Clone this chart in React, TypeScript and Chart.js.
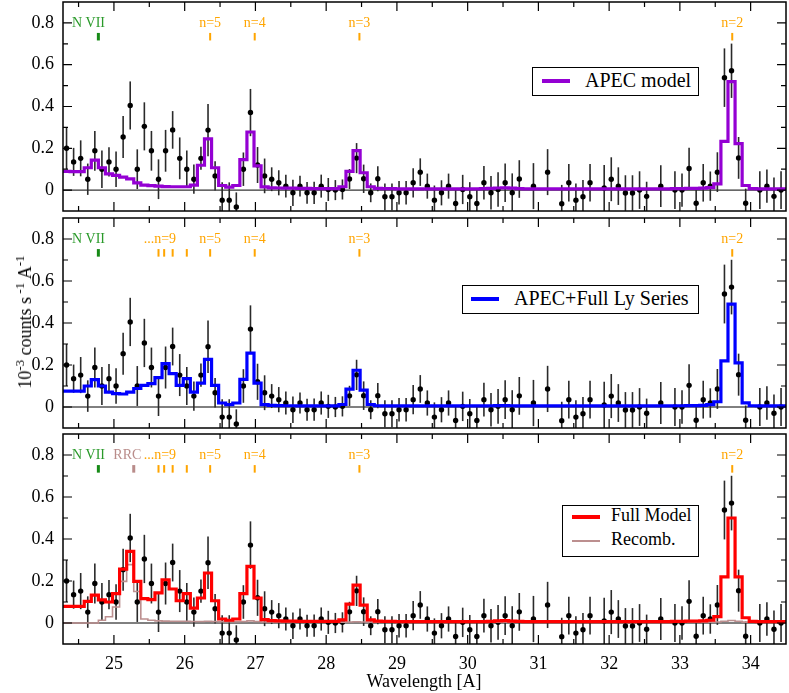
import React, { useEffect, useRef } from "react";
import Chart from "chart.js/auto";

const FONT = '"Liberation Serif", "Times New Roman", serif';

// observed spectrum: bin centres [A], rate and 1-sigma error
const dataWave = [
  24.33, 24.43, 24.53, 24.63, 24.73, 24.83, 24.93, 25.03, 25.13, 25.23,
  25.33, 25.43, 25.53, 25.63, 25.73, 25.83, 25.93, 26.03, 26.13, 26.23,
  26.33, 26.43, 26.53, 26.63, 26.73, 26.83, 26.93, 27.03, 27.13, 27.23,
  27.33, 27.43, 27.53, 27.63, 27.73, 27.83, 27.93, 28.03, 28.13, 28.23,
  28.33, 28.43, 28.53, 28.63, 28.73, 28.83, 28.93, 29.03, 29.13, 29.23,
  29.33, 29.43, 29.53, 29.63, 29.73, 29.83, 29.93, 30.03, 30.13, 30.23,
  30.33, 30.43, 30.53, 30.63, 30.73, 30.93, 31.13, 31.33, 31.43, 31.53,
  31.63, 31.73, 31.93, 32.03, 32.13, 32.23, 32.33, 32.43, 32.53, 32.73,
  32.93, 33.03, 33.13, 33.23, 33.33, 33.43, 33.53, 33.63, 33.73, 33.83,
  33.93, 34.13, 34.23, 34.33, 34.43,
];
const dataRate = [
  0.200, 0.135, 0.152, 0.052, 0.188, 0.100, 0.135, 0.100, 0.254, 0.405,
  0.100, 0.305, 0.188, 0.052, 0.188, 0.288, 0.152, 0.100, 0.052, 0.152,
  0.287, 0.068, -0.048, -0.048, -0.081, 0.100, 0.371, 0.120, 0.068, 0.052,
  0.035, 0.019, -0.013, 0.019, -0.013, -0.013, 0.019, 0.003, 0.000, 0.003,
  0.053, 0.153, 0.054, -0.013, 0.054, -0.032, -0.032, -0.013, -0.013, 0.035,
  0.086, 0.019, -0.048, -0.013, 0.019, -0.064, 0.003, -0.032, -0.064, 0.035,
  -0.013, 0.003, 0.035, -0.013, 0.053, 0.019, 0.086, -0.065, 0.035, -0.048,
  -0.032, 0.035, 0.010, 0.052, 0.019, -0.014, -0.014, 0.000, -0.030, 0.019,
  0.000, 0.000, 0.103, -0.063, 0.035, 0.019, 0.086, 0.538, 0.571, 0.154,
  -0.063, 0.000, 0.019, -0.030, 0.000,
];
const dataErr = [
  0.100, 0.067, 0.086, 0.075, 0.095, 0.090, 0.070, 0.085, 0.100, 0.115,
  0.095, 0.115, 0.095, 0.095, 0.100, 0.090, 0.100, 0.090, 0.070, 0.055,
  0.125, 0.070, 0.085, 0.085, 0.070, 0.080, 0.113, 0.086, 0.083, 0.057,
  0.060, 0.055, 0.063, 0.050, 0.052, 0.053, 0.055, 0.055, 0.048, 0.048,
  0.048, 0.072, 0.068, 0.045, 0.060, 0.064, 0.064, 0.056, 0.056, 0.070,
  0.066, 0.060, 0.070, 0.060, 0.060, 0.070, 0.070, 0.070, 0.070, 0.080,
  0.080, 0.083, 0.092, 0.093, 0.090, 0.110, 0.110, 0.090, 0.090, 0.080,
  0.080, 0.090, 0.110, 0.105, 0.090, 0.085, 0.085, 0.090, 0.070, 0.100,
  0.090, 0.080, 0.100, 0.070, 0.090, 0.070, 0.095, 0.140, 0.130, 0.100,
  0.070, 0.090, 0.080, 0.090, 0.090,
];

// model grid (one extra bin on each side so the steps reach the frame)
const modelWave = [
  24.23, 24.33, 24.43, 24.53, 24.63, 24.73, 24.83, 24.93, 25.03, 25.13,
  25.23, 25.33, 25.43, 25.53, 25.63, 25.73, 25.83, 25.93, 26.03, 26.13,
  26.23, 26.33, 26.43, 26.53, 26.63, 26.73, 26.83, 26.93, 27.03, 27.13,
  27.23, 27.33, 27.43, 27.53, 27.63, 27.73, 27.83, 27.93, 28.03, 28.13,
  28.23, 28.33, 28.43, 28.53, 28.63, 28.73, 28.83, 28.93, 29.03, 29.13,
  29.23, 29.33, 29.43, 29.53, 29.63, 29.73, 29.83, 29.93, 30.03, 30.13,
  30.23, 30.33, 30.43, 30.53, 30.63, 30.73, 30.83, 30.93, 31.03, 31.13,
  31.23, 31.33, 31.43, 31.53, 31.63, 31.73, 31.83, 31.93, 32.03, 32.13,
  32.23, 32.33, 32.43, 32.53, 32.63, 32.73, 32.83, 32.93, 33.03, 33.13,
  33.23, 33.33, 33.43, 33.53, 33.63, 33.73, 33.83, 33.93, 34.03, 34.13,
  34.23, 34.33, 34.43, 34.53,
];
const apecModel = [
  0.090, 0.090, 0.088, 0.088, 0.107, 0.143, 0.107, 0.078, 0.070, 0.062,
  0.054, 0.035, 0.024, 0.021, 0.019, 0.017, 0.016, 0.016, 0.016, 0.024,
  0.119, 0.245, 0.107, 0.022, 0.014, 0.022, 0.146, 0.278, 0.116, 0.015,
  0.011, 0.010, 0.009, 0.009, 0.008, 0.008, 0.007, 0.007, 0.007, 0.007,
  0.016, 0.090, 0.189, 0.083, 0.016, 0.008, 0.007, 0.007, 0.006, 0.006,
  0.006, 0.006, 0.006, 0.006, 0.006, 0.006, 0.006, 0.006, 0.006, 0.006,
  0.007, 0.008, 0.010, 0.011, 0.009, 0.007, 0.006, 0.006, 0.006, 0.006,
  0.006, 0.006, 0.006, 0.006, 0.006, 0.006, 0.006, 0.006, 0.006, 0.006,
  0.006, 0.006, 0.006, 0.006, 0.006, 0.006, 0.006, 0.007, 0.007, 0.008,
  0.008, 0.009, 0.012, 0.030, 0.233, 0.519, 0.222, 0.022, 0.007, 0.006,
  0.006, 0.006, 0.006, 0.006,
];
const lyModel = [
  0.076, 0.076, 0.076, 0.076, 0.100, 0.130, 0.100, 0.071, 0.064, 0.062,
  0.071, 0.088, 0.103, 0.111, 0.140, 0.207, 0.159, 0.103, 0.135, 0.071,
  0.114, 0.227, 0.103, 0.019, 0.011, 0.019, 0.132, 0.257, 0.114, 0.011,
  0.008, 0.007, 0.006, 0.006, 0.005, 0.005, 0.005, 0.005, 0.005, 0.005,
  0.012, 0.085, 0.175, 0.080, 0.012, 0.006, 0.005, 0.005, 0.005, 0.005,
  0.005, 0.005, 0.005, 0.005, 0.005, 0.005, 0.005, 0.005, 0.005, 0.005,
  0.005, 0.006, 0.007, 0.007, 0.006, 0.005, 0.005, 0.005, 0.005, 0.005,
  0.005, 0.005, 0.005, 0.005, 0.005, 0.005, 0.005, 0.005, 0.005, 0.005,
  0.005, 0.005, 0.005, 0.005, 0.005, 0.005, 0.005, 0.006, 0.006, 0.007,
  0.007, 0.008, 0.011, 0.025, 0.220, 0.490, 0.210, 0.020, 0.006, 0.005,
  0.005, 0.005, 0.005, 0.005,
];
const fullModel = [
  0.079, 0.079, 0.079, 0.079, 0.103, 0.133, 0.110, 0.100, 0.140, 0.257,
  0.341, 0.198, 0.116, 0.111, 0.143, 0.206, 0.162, 0.106, 0.140, 0.071,
  0.119, 0.238, 0.106, 0.019, 0.013, 0.019, 0.140, 0.270, 0.119, 0.016,
  0.011, 0.010, 0.009, 0.009, 0.008, 0.008, 0.008, 0.008, 0.008, 0.008,
  0.015, 0.090, 0.180, 0.085, 0.015, 0.009, 0.008, 0.008, 0.007, 0.007,
  0.007, 0.007, 0.007, 0.007, 0.007, 0.007, 0.007, 0.007, 0.007, 0.007,
  0.007, 0.008, 0.010, 0.011, 0.009, 0.008, 0.007, 0.007, 0.007, 0.007,
  0.007, 0.007, 0.007, 0.007, 0.007, 0.007, 0.007, 0.007, 0.007, 0.007,
  0.007, 0.007, 0.007, 0.007, 0.007, 0.007, 0.007, 0.008, 0.008, 0.009,
  0.009, 0.010, 0.013, 0.030, 0.220, 0.500, 0.220, 0.025, 0.008, 0.007,
  0.007, 0.007, 0.007, 0.007,
];
const recombModel = [
  0.000, 0.000, 0.000, 0.000, 0.000, 0.000, 0.013, 0.030, 0.076, 0.198,
  0.278, 0.150, 0.019, 0.013, 0.010, 0.009, 0.008, 0.008, 0.008, 0.007,
  0.007, 0.008, 0.007, 0.006, 0.006, 0.006, 0.007, 0.010, 0.007, 0.005,
  0.005, 0.005, 0.005, 0.005, 0.005, 0.004, 0.004, 0.004, 0.004, 0.004,
  0.004, 0.005, 0.006, 0.005, 0.004, 0.004, 0.004, 0.004, 0.004, 0.004,
  0.004, 0.004, 0.004, 0.004, 0.004, 0.004, 0.004, 0.004, 0.004, 0.004,
  0.004, 0.004, 0.004, 0.004, 0.004, 0.004, 0.004, 0.004, 0.004, 0.004,
  0.004, 0.004, 0.004, 0.004, 0.004, 0.004, 0.004, 0.004, 0.004, 0.004,
  0.004, 0.004, 0.004, 0.004, 0.004, 0.004, 0.004, 0.004, 0.004, 0.004,
  0.004, 0.004, 0.004, 0.005, 0.008, 0.012, 0.008, 0.004, 0.004, 0.004,
  0.004, 0.004, 0.004, 0.004,
];

const xTicks = [25, 26, 27, 28, 29, 30, 31, 32, 33, 34];
const xMinorTicks = [24.5, 25.5, 26.5, 27.5, 28.5, 29.5, 30.5, 31.5, 32.5, 33.5];
const yTicks = [0, 0.2, 0.4, 0.6, 0.8];
const yMinorTicks = [0.1, 0.3, 0.5, 0.7];

// line identifications
const lyWave = [26.36, 26.99, 28.47, 33.74];
const lyNames = ["n=5", "n=4", "n=3", "n=2"];
const lyHighWave = [25.63, 25.71, 25.83, 26.03];
const nviiWave = 24.78;
const rrcWave = 25.28;

type Marker = { x: number; color: string; w: number; text?: string; textX?: number; textColor?: string };

const ORANGE = "#ffa500";
const nvii: Marker = { x: nviiWave, color: "#178a17", w: 3, text: "N VII", textX: 24.64, textColor: "#2a9a2a" };
const lyMarks: Marker[] = lyWave.map((x, i) => ({ x, color: ORANGE, w: 2, text: lyNames[i], textColor: ORANGE }));
const highMarks: Marker[] = lyHighWave.map((x, i) =>
  i === 0 ? { x, color: ORANGE, w: 2, text: "...n=9", textX: 25.65, textColor: ORANGE } : { x, color: ORANGE, w: 2 }
);
const rrc: Marker = { x: rrcWave, color: "#b98c8a", w: 3, text: "RRC", textX: 25.19, textColor: "#b98c8a" };

const panelPlugin = {
  id: "panel",
  beforeDatasetsDraw(chart: any) {
    const { ctx, chartArea: a, scales } = chart;
    const x = scales.x, y = scales.y;
    ctx.save();
    ctx.beginPath();
    ctx.rect(a.left, a.top, a.right - a.left, a.bottom - a.top);
    ctx.clip();
    const y0 = y.getPixelForValue(0);
    ctx.strokeStyle = "#000";
    ctx.lineWidth = 1;
    ctx.beginPath();
    ctx.moveTo(a.left, y0);
    ctx.lineTo(a.right, y0);
    ctx.stroke();
    ctx.strokeStyle = "#2a2a2a";
    ctx.lineWidth = 1.6;
    dataWave.forEach((w, i) => {
      const px = x.getPixelForValue(w);
      ctx.beginPath();
      ctx.moveTo(px, y.getPixelForValue(dataRate[i] - dataErr[i]));
      ctx.lineTo(px, y.getPixelForValue(dataRate[i] + dataErr[i]));
      ctx.stroke();
    });
    ctx.restore();
  },
  afterDraw(chart: any, _args: any, opts: any) {
    const { ctx, chartArea: a, scales } = chart;
    const x = scales.x, y = scales.y;
    ctx.save();
    ctx.strokeStyle = "#000";
    ctx.lineWidth = 1.2;
    const tick = (vals: number[], len: number) => {
      vals.forEach((v) => {
        const px = x.getPixelForValue(v);
        ctx.beginPath();
        ctx.moveTo(px, a.bottom);
        ctx.lineTo(px, a.bottom - len);
        ctx.moveTo(px, a.top);
        ctx.lineTo(px, a.top + len);
        ctx.stroke();
      });
    };
    const ytick = (vals: number[], len: number) => {
      vals.forEach((v) => {
        const py = y.getPixelForValue(v);
        ctx.beginPath();
        ctx.moveTo(a.left, py);
        ctx.lineTo(a.left + len, py);
        ctx.moveTo(a.right, py);
        ctx.lineTo(a.right - len, py);
        ctx.stroke();
      });
    };
    tick(xTicks, 9);
    tick(xMinorTicks, 5);
    ytick(yTicks, 9);
    ytick(yMinorTicks, 5);
    ctx.lineWidth = 1.5;
    ctx.strokeRect(a.left, a.top, a.right - a.left, a.bottom - a.top);

    const markers: Marker[] = opts.markers || [];
    const yA = y.getPixelForValue(0.752);
    const yB = y.getPixelForValue(0.716);
    const yT = y.getPixelForValue(0.8);
    ctx.font = `14px ${FONT}`;
    ctx.textAlign = "center";
    ctx.textBaseline = "middle";
    markers.forEach((m) => {
      const px = x.getPixelForValue(m.x);
      ctx.fillStyle = m.color;
      ctx.fillRect(px - m.w / 2, yA, m.w, yB - yA);
      if (m.text) {
        ctx.fillStyle = m.textColor || m.color;
        ctx.fillText(m.text, x.getPixelForValue(m.textX ?? m.x), yT);
      }
    });
    ctx.restore();
  },
};

type Curve = { values: number[]; color: string; width: number };

type PanelProps = {
  top: number;
  height: number;
  axisHeight: number;
  showX: boolean;
  curves: Curve[];
  markers: Marker[];
};

const Panel = ({ top, height, axisHeight, showX, curves, markers }: PanelProps) => {
  const canvasRef = useRef<HTMLCanvasElement>(null);

  useEffect(() => {
    if (!canvasRef.current) return;
    const chart = new Chart(canvasRef.current, {
      type: "line",
      data: {
        datasets: [
          ...curves.map((c, i) => ({
            data: modelWave.map((w, k) => ({ x: w, y: c.values[k] })),
            borderColor: c.color,
            borderWidth: c.width,
            stepped: "middle" as const,
            pointRadius: 0,
            fill: false,
            clip: 0,
            order: i + 1,
          })),
          {
            data: dataWave.map((w, k) => ({ x: w, y: dataRate[k] })),
            showLine: false,
            pointRadius: 2.7,
            pointBackgroundColor: "#000",
            pointBorderWidth: 0,
            borderColor: "#000",
            order: 5,
          },
        ],
      },
      options: {
        animation: false,
        responsive: true,
        maintainAspectRatio: false,
        layout: { autoPadding: false, padding: { top: 2, right: 3, bottom: 0, left: 0 } },
        plugins: {
          legend: { display: false },
          tooltip: { enabled: false },
          panel: { markers },
        } as any,
        scales: {
          x: {
            type: "linear",
            min: 24.28,
            max: 34.5,
            grid: { display: false, drawTicks: false },
            border: { display: false },
            afterBuildTicks: (s: any) => {
              s.ticks = xTicks.map((v) => ({ value: v }));
            },
            afterFit: (s: any) => {
              s.height = axisHeight;
              s.paddingLeft = 0;
              s.paddingRight = 0;
            },
            ticks: {
              display: showX,
              autoSkip: false,
              maxRotation: 0,
              padding: 9,
              color: "#000",
              font: { family: FONT, size: 18 },
              callback: (v: any) => String(v),
            },
          },
          y: {
            min: -0.1,
            max: 0.9,
            grid: { display: false, drawTicks: false },
            border: { display: false },
            afterBuildTicks: (s: any) => {
              s.ticks = yTicks.map((v) => ({ value: v }));
            },
            afterFit: (s: any) => {
              s.width = 63;
              s.paddingTop = 0;
              s.paddingBottom = 0;
            },
            ticks: {
              padding: 9,
              color: "#000",
              font: { family: FONT, size: 18 },
              callback: (v: any) => String(v),
            },
          },
        },
      },
      plugins: [panelPlugin],
    });
    return () => chart.destroy();
  }, []);

  return (
    <div style={{ position: "absolute", left: 0, top, width: 789, height }}>
      <canvas ref={canvasRef}></canvas>
    </div>
  );
};

type LegendItem = { color: string; width: number; text: string; y: number };

const Legend = ({ left, top, width, height, lineX, textX, size, items }: {
  left: number; top: number; width: number; height: number; lineX: number; textX: number; size: number; items: LegendItem[];
}) => (
  <>
    <div
      style={{
        position: "absolute", left, top, width, height, boxSizing: "border-box",
        border: "1.5px solid #000", background: "#fff",
      }}
    />
    {items.map((it) => (
      <React.Fragment key={it.text}>
        <div
          style={{
            position: "absolute", left: lineX, top: it.y - it.width / 2, width: 28, height: it.width,
            background: it.color,
          }}
        />
        <div
          style={{
            position: "absolute", left: textX, top: it.y - 12, height: 24, lineHeight: "24px",
            font: `${size}px ${FONT}`, color: "#000", whiteSpace: "nowrap",
          }}
        >
          {it.text}
        </div>
      </React.Fragment>
    ))}
  </>
);

const App = () => {
  return (
    <div style={{ position: "absolute", left: 0, top: 0, width: 789, height: 693, background: "#fff", overflow: "hidden" }}>
      <Panel top={0} height={213} axisHeight={2} showX={false}
        curves={[{ values: apecModel, color: "#9400d3", width: 3.2 }]}
        markers={[nvii, ...lyMarks]} />
      <Panel top={216} height={214} axisHeight={2} showX={false}
        curves={[{ values: lyModel, color: "#0000ff", width: 3.2 }]}
        markers={[nvii, ...highMarks, ...lyMarks]} />
      <Panel top={432} height={261} axisHeight={49} showX={true}
        curves={[
          { values: fullModel, color: "#ff0000", width: 3.2 },
          { values: recombModel, color: "#bc8f8f", width: 1.6 },
        ]}
        markers={[nvii, rrc, ...highMarks, ...lyMarks]} />

      <Legend left={532} top={67} width={167} height={29} lineX={542} textX={585} size={20}
        items={[{ color: "#9400d3", width: 4, text: "APEC model", y: 81 }]} />
      <Legend left={462} top={285} width={237} height={29} lineX={471} textX={514} size={20}
        items={[{ color: "#0000ff", width: 4, text: "APEC+Full Ly Series", y: 299 }]} />
      <Legend left={562} top={505} width={137} height={52} lineX={572} textX={611} size={18}
        items={[
          { color: "#ff0000", width: 4, text: "Full Model", y: 517 },
          { color: "#bc8f8f", width: 2, text: "Recomb.", y: 541 },
        ]} />

      <div
        style={{
          position: "absolute", left: 24, top: 322, transform: "translate(-50%, -50%) rotate(-90deg)",
          font: `18px ${FONT}`, whiteSpace: "nowrap", color: "#000",
        }}
      >
        10<sup style={{ fontSize: 13 }}>-3</sup> counts s<sup style={{ fontSize: 13 }}> -1</sup> A<sup style={{ fontSize: 13 }}>-1</sup>
      </div>
      <div
        style={{
          position: "absolute", left: 424, top: 681, transform: "translate(-50%, -50%)",
          font: `18px ${FONT}`, whiteSpace: "nowrap", color: "#000",
        }}
      >
        Wavelength [A]
      </div>
    </div>
  );
};

export default App;
